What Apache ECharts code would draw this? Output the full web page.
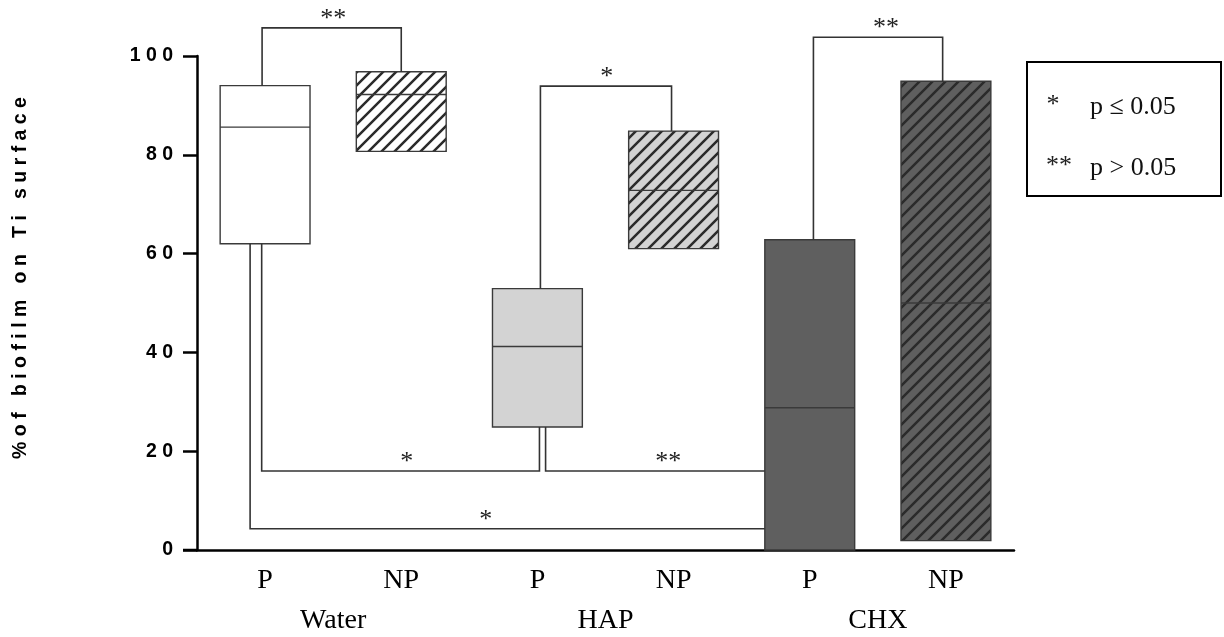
<!DOCTYPE html>
<html>
<head>
<meta charset="utf-8">
<script src="https://cdn.jsdelivr.net/npm/echarts@6/dist/echarts.min.js"></script>
<style>
  html, body { margin: 0; padding: 0; background: #fff; }
  #chart { width: 1224px; height: 637px; }
</style>
</head>
<body>
<div id="chart"></div>
<script>
// Box summaries per treatment (P / NP) for each rinse group
const categories = ['P', 'NP', 'P', 'NP', 'P', 'NP'];
const groups = ['Water', 'HAP', 'CHX'];
const lowerQ = [62, 80.7, 24.9, 61, 0, 1.9];
const medianV = [85.6, 92.2, 41.2, 72.8, 28.8, 50];
const upperQ = [94, 96.8, 52.9, 84.8, 62.8, 94.9];
const yTicks = [0, 20, 40, 60, 80, 100];

// Significance brackets: which boxes are compared, the level of the bar, the mark
const pairFrom = [0, 2, 4, 0, 2, 0];
const pairTo = [1, 3, 5, 2, 4, 4];
const pairLevel = [105.7, 93.9, 103.8, 16.0, 16.0, 4.3];
const pairMark = ['**', '*', '**', '*', '**', '*'];

// Legend entries
const legendMarks = ['*', '**'];
const legendTexts = ['p \u2264 0.05', 'p > 0.05'];

// ---- styling / layout (kept apart from the values) ----
const BOX_W = 0.66;                       // box width as a share of the category band
const boxFill = ['#ffffff', '#ffffff', '#d3d3d3', '#d3d3d3', '#5f5f5f', '#5f5f5f'];
const boxHatch = [false, true, false, true, false, true];
const legFromOff = [-0.022, 0.022, 0.027, -0.025, 0.06, -0.11];
const legToOff = [0.0, -0.015, -0.024, 0.015, null, null]; // null: bar stops at box edge
const markAt = [0.5, 2.51, 4.56, 1.04, 2.96, 1.62];

function hatchTile(bg) {
  const s = 13;
  const c = document.createElement('canvas');
  c.width = s; c.height = s;
  const g = c.getContext('2d');
  g.fillStyle = bg;
  g.fillRect(0, 0, s, s);
  g.strokeStyle = '#2b2b2b';
  g.lineWidth = 2.5;
  g.beginPath();
  g.moveTo(-s, s); g.lineTo(s, -s);
  g.moveTo(0, s); g.lineTo(s, 0);
  g.moveTo(0, 2 * s); g.lineTo(2 * s, 0);
  g.stroke();
  return { image: c, repeat: 'repeat' };
}

const boxData = categories.map((c, i) => [i, lowerQ[i], medianV[i], upperQ[i]]);
const pairData = pairFrom.map((f, i) => [i]);

const chart = echarts.init(document.getElementById('chart'), null, { renderer: 'canvas' });

const serif = 'Liberation Serif, Times New Roman, serif';
const sans = 'Liberation Sans, Arial, sans-serif';

chart.setOption({
  animation: false,
  grid: { left: 197, right: 210, top: 56, bottom: 87, containLabel: false },
  xAxis: [
    {
      type: 'category',
      data: categories,
      boundaryGap: true,
      axisLine: { lineStyle: { color: '#000', width: 2.5 } },
      axisTick: { alignWithLabel: true, length: 13, lineStyle: { color: '#000', width: 2.5 } },
      axisLabel: { color: '#000', fontFamily: serif, fontSize: 28, margin: 17 },
      splitLine: { show: false }
    },
    {
      type: 'category',
      data: groups,
      position: 'bottom',
      offset: 40,
      boundaryGap: true,
      axisLine: { show: false },
      axisTick: { show: false },
      axisLabel: { color: '#000', fontFamily: serif, fontSize: 28, margin: 17 },
      splitLine: { show: false }
    }
  ],
  yAxis: {
    type: 'value',
    min: yTicks[0],
    max: yTicks[yTicks.length - 1],
    interval: yTicks[1] - yTicks[0],
    axisLine: { show: true, lineStyle: { color: '#000', width: 2.5 } },
    axisTick: { show: true, length: 14, lineStyle: { color: '#000', width: 2.5 } },
    axisLabel: {
      color: '#000', fontFamily: sans, fontWeight: 'bold', fontSize: 19.5, margin: 24,
      formatter: v => String(v).split('').join(' ')
    },
    splitLine: { show: false }
  },
  series: [
    {
      type: 'custom',
      xAxisIndex: 0,
      clip: false,
      data: boxData,
      encode: { x: 0, y: [1, 2, 3] },
      renderItem: function (params, api) {
        const i = api.value(0);
        const band = api.size([1, 0])[0];
        const w = band * BOX_W;
        const top = api.coord([i, api.value(3)]);
        const bot = api.coord([i, api.value(1)]);
        const med = api.coord([i, api.value(2)]);
        const fill = boxHatch[i] ? hatchTile(boxFill[i]) : boxFill[i];
        return {
          type: 'group',
          children: [
            {
              type: 'rect',
              shape: { x: top[0] - w / 2, y: top[1], width: w, height: bot[1] - top[1] },
              style: { fill: fill, stroke: '#3a3a3a', lineWidth: 1.4 }
            },
            {
              type: 'line',
              shape: { x1: med[0] - w / 2, y1: med[1], x2: med[0] + w / 2, y2: med[1] },
              style: { stroke: '#3a3a3a', lineWidth: 1.4 }
            }
          ]
        };
      }
    },
    {
      type: 'custom',
      xAxisIndex: 0,
      clip: false,
      z: 5,
      data: pairData,
      encode: { x: 0 },
      renderItem: function (params, api) {
        const k = params.dataIndex;
        const band = api.size([1, 0])[0];
        const a = pairFrom[k], b = pairTo[k], lev = pairLevel[k];
        const above = lev > upperQ[a];
        const startV = above ? upperQ[a] : lowerQ[a];
        const pA0 = api.coord([a, startV]);
        const ax = pA0[0] + legFromOff[k] * band;
        const yLev = api.coord([a, lev])[1];
        const pts = [[ax, pA0[1]], [ax, yLev]];
        if (legToOff[k] === null) {
          const bx = api.coord([b, lev])[0] - band * BOX_W / 2;
          pts.push([bx, yLev]);
        } else {
          const endV = above ? upperQ[b] : lowerQ[b];
          const pB = api.coord([b, endV]);
          const bx = pB[0] + legToOff[k] * band;
          pts.push([bx, yLev], [bx, pB[1]]);
        }
        const lx = api.coord([0, lev])[0] + markAt[k] * band;
        return {
          type: 'group',
          children: [
            {
              type: 'polyline',
              shape: { points: pts },
              style: { stroke: '#333', lineWidth: 1.6, fill: null }
            },
            {
              type: 'text',
              style: {
                x: lx, y: yLev - 9,
                text: pairMark[k],
                fill: '#222',
                font: '26px ' + serif,
                textAlign: 'center',
                textVerticalAlign: 'middle'
              }
            }
          ]
        };
      }
    }
  ],
  graphic: [
    // short stub of the category axis reaching past the value axis
    {
      type: 'line',
      shape: { x1: 183, y1: 550, x2: 198, y2: 550 },
      style: { stroke: '#000', lineWidth: 2.5 }
    },
    {
      type: 'text',
      x: 21, y: 278,
      rotation: Math.PI / 2,
      style: {
        text: '% o f   b i o f i l m   o n   T i   s u r f a c e',
        font: 'bold 19.5px ' + sans,
        fill: '#000',
        textAlign: 'center',
        textVerticalAlign: 'middle'
      }
    },
    {
      type: 'rect',
      shape: { x: 1027, y: 62, width: 194, height: 134 },
      style: { fill: '#fff', stroke: '#000', lineWidth: 2 }
    },
    {
      type: 'text', x: 1053, y: 105,
      style: { text: legendMarks[0], font: '26px ' + serif, fill: '#222', textAlign: 'center', textVerticalAlign: 'middle' }
    },
    {
      type: 'text', x: 1090, y: 107,
      style: { text: legendTexts[0], font: '26px ' + serif, fill: '#111', textAlign: 'left', textVerticalAlign: 'middle' }
    },
    {
      type: 'text', x: 1059, y: 166,
      style: { text: legendMarks[1], font: '26px ' + serif, fill: '#222', textAlign: 'center', textVerticalAlign: 'middle' }
    },
    {
      type: 'text', x: 1090, y: 168,
      style: { text: legendTexts[1], font: '26px ' + serif, fill: '#111', textAlign: 'left', textVerticalAlign: 'middle' }
    }
  ]
});
</script>
</body>
</html>
